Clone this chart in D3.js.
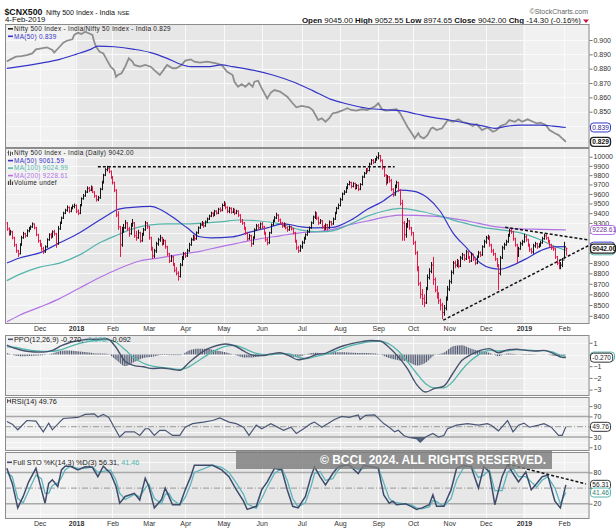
<!DOCTYPE html>
<html><head><meta charset="utf-8">
<script src="https://cdn.jsdelivr.net/npm/d3@7/dist/d3.min.js"></script>
<style>
html,body{margin:0;padding:0;background:#fff;}
svg{display:block;}
text{font-family:"Liberation Sans",Arial,sans-serif;}
</style></head><body>
<svg id="chart" width="616" height="532"></svg>
<script>
// ================= DATA =================
const monthLabels = ["Dec","2018","Feb","Mar","Apr","May","Jun","Jul","Aug","Sep","Oct","Nov","Dec","2019","Feb"];
const monthBars = [18,20,20,20,20,21,21,22,21,21,19,20,20,21,22,2]; // Nov-2017 .. Feb-2019 (bars per month)
const yearStartIdx = [38,284];

const headerLabels = ["Open","High","Low","Close","Chg"];
const headerValues = ["9045.00","9052.55","8974.65","9042.00","-14.30 (-0.16%)"];
const firstOpen = 9300, lastOpen = 9045;

const close = [
9240,9190,9210,9150,9080,9020,8990,9080,9150,9190,9170,9220,9240,9260,9290,9250,9180,9120,
9080,9040,9010,9060,9130,9180,9160,9210,9190,9090,9240,9300,9350,9400,9430,9460,9420,9450,9470,9480,
9420,9400,9480,9550,9580,9620,9660,9640,9670,9620,9580,9540,9560,9650,9720,9800,9860,9870,9840,9780,
9720,9640,9380,9260,9080,9220,9250,9300,9240,9190,9280,9300,9170,9150,9200,9120,9180,9230,9300,9260,
9150,9040,8970,9020,9090,9130,9150,9090,9120,9060,8990,8920,8960,8890,8830,8800,8770,8880,8950,8990,
8970,9020,9080,9130,9160,9140,9200,9250,9280,9300,9270,9310,9340,9370,9400,9380,9420,9400,9440,9430,9480,
9500,9460,9420,9450,9410,9440,9400,9420,9380,9320,9300,9250,9200,9140,9170,9090,9150,9230,9270,9250,9290,
9260,9200,9130,9100,9200,9280,9320,9350,9380,9330,9300,9270,9290,9250,9230,9260,9240,9200,9120,9050,9020,9060,
9100,9140,9180,9210,9250,9300,9360,9390,9350,9300,9320,9260,9240,9280,9250,9310,9290,9340,9400,9450,9480,
9540,9600,9620,9660,9700,9720,9680,9710,9660,9690,9650,9700,9780,9820,9860,9850,9920,9960,9940,9970,9990,
10010,9960,9880,9800,9720,9780,9740,9650,9590,9680,9720,9640,9500,9300,9180,9270,9320,9250,9200,
9100,9000,8850,8700,8600,8560,8520,8650,8760,8820,8880,8740,8640,8600,8540,8500,8430,8470,8560,8650,
8720,8810,8900,8880,8920,8870,8950,8980,8940,9010,8960,8920,8990,8940,8900,8960,9000,8980,9060,9110,
9150,9160,9080,9020,8990,8940,8880,8800,8950,9050,9080,9110,9170,9220,9210,9140,9080,8970,9040,9090,9110,
9160,9130,9080,9030,9010,9070,9090,9060,9080,9100,9140,9170,9150,9120,9080,9050,9040,8960,8900,8870,8880,8930,
9056.3,9042];
const high = [
9310,9255,9230,9220,9160,9090,9030,9095,9170,9210,9200,9235,9260,9275,9305,9295,9260,9190,
9130,9095,9060,9075,9145,9195,9200,9225,9230,9200,9270,9315,9365,9415,9445,9480,9470,9465,9490,9500,
9490,9440,9495,9565,9600,9640,9680,9675,9690,9680,9630,9590,9580,9665,9740,9815,9875,9900,9885,9850,
9790,9730,9650,9420,9270,9260,9290,9330,9310,9260,9300,9340,9310,9220,9230,9210,9200,9250,9320,9310,
9270,9160,9060,9040,9110,9150,9180,9160,9140,9130,9070,9000,8980,8970,8900,8860,8820,8900,8970,9010,
9010,9040,9100,9150,9180,9175,9215,9265,9300,9320,9310,9325,9355,9385,9415,9410,9435,9430,9455,9460,9500,
9525,9510,9470,9465,9460,9455,9445,9435,9430,9390,9340,9310,9260,9210,9190,9180,9165,9245,9290,9290,9305,
9310,9270,9210,9150,9210,9295,9335,9370,9405,9390,9345,9310,9305,9300,9265,9275,9270,9250,9210,9130,9070,9080,
9120,9160,9195,9230,9265,9315,9375,9420,9410,9365,9340,9330,9280,9295,9290,9325,9320,9355,9415,9465,9500,
9560,9615,9640,9680,9715,9740,9730,9725,9720,9705,9700,9715,9795,9835,9875,9880,9935,9975,9975,9985,10010,
10050,10020,9970,9890,9810,9800,9790,9760,9660,9700,9740,9730,9650,9540,9320,9300,9350,9330,9260,
9210,9120,9020,8870,8720,8650,8600,8670,8790,8850,8910,8960,8760,8680,8620,8560,8520,8500,8580,8680,
8740,8830,8920,8925,8940,8930,8970,9000,8990,9030,9015,8970,9005,8990,8950,8975,9020,9015,9075,9130,
9170,9180,9170,9090,9040,9000,8950,8890,8970,9070,9100,9130,9190,9240,9240,9220,9150,9090,9060,9110,9130,
9190,9180,9140,9090,9050,9090,9110,9100,9095,9120,9160,9190,9185,9160,9130,9090,9070,9050,8970,8920,8910,8950,
9110,9052.55];
const low = [
9220,9170,9175,9135,9060,9000,8960,8985,9070,9140,9150,9160,9205,9230,9250,9235,9165,9100,
9060,9020,8990,9000,9050,9120,9140,9150,9170,9050,9080,9230,9290,9340,9390,9415,9400,9410,9440,9450,
9400,9380,9390,9470,9540,9570,9610,9620,9630,9610,9560,9520,9525,9550,9640,9710,9790,9840,9820,9760,
9700,9620,9360,9230,8960,9060,9200,9240,9220,9160,9180,9260,9150,9120,9140,9100,9110,9170,9220,9240,
9130,9020,8940,8950,9000,9070,9110,9070,9080,9040,8970,8900,8910,8870,8810,8780,8730,8760,8870,8930,
8950,8960,9010,9070,9120,9120,9130,9190,9240,9270,9250,9260,9300,9330,9360,9360,9370,9385,9390,9410,9420,
9470,9440,9400,9400,9395,9400,9380,9390,9360,9300,9280,9230,9180,9120,9130,9060,9080,9140,9220,9230,9240,
9240,9180,9110,9075,9090,9190,9270,9310,9340,9310,9280,9250,9255,9235,9210,9220,9225,9185,9100,9030,9000,9010,
9040,9090,9130,9170,9200,9240,9290,9340,9330,9280,9290,9240,9220,9230,9225,9240,9270,9280,9330,9390,9440,
9470,9530,9590,9610,9650,9690,9660,9670,9645,9650,9630,9640,9690,9770,9810,9830,9840,9910,9920,9930,9955,
9970,9940,9860,9780,9690,9710,9720,9630,9570,9580,9660,9620,9480,9120,9120,9150,9250,9230,9170,
9080,8980,8820,8680,8560,8500,8480,8510,8640,8740,8800,8690,8620,8560,8510,8450,8370,8400,8450,8540,
8630,8700,8790,8850,8860,8850,8860,8930,8920,8930,8940,8900,8910,8920,8880,8890,8950,8960,8970,9050,
9090,9130,9060,9000,8970,8920,8860,8640,8780,8940,9030,9070,9100,9160,9190,9120,9060,8900,8960,9030,9070,
9100,9110,9060,9010,8990,8990,9050,9040,9050,9060,9090,9130,9130,9100,9060,9030,9020,8940,8880,8840,8840,8860,
8950,8974.65];

// moving averages on price (read at sample bars)
const ma50Idx = [0,7,18,29,40,51,57,61,69,79,84,91,99,106,112,124,134,143,152,162,170,179,189,198,207,212,216,223,231,238,245,253,260,266,271,278,286,293,300,307];
const ma50 = [8900,8950,9000,9100,9200,9330,9400,9440,9460,9470,9440,9360,9250,9160,9150,9160,9210,9250,9290,9260,9250,9255,9330,9440,9530,9600,9640,9630,9560,9420,9200,9040,8900,8850,8840,8880,8950,9020,9060,9061.59];
const ma100Idx = [0,7,18,29,40,51,61,69,79,88,99,110,117,128,139,150,161,172,179,189,198,209,216,227,238,249,260,271,282,293,300,307];
const ma100 = [8730,8790,8860,8900,8980,9100,9180,9240,9280,9290,9290,9300,9310,9330,9320,9290,9230,9210,9220,9290,9370,9430,9450,9420,9370,9310,9260,9230,9200,9130,9070,9024.99];
const ma200Idx = [0,7,18,29,40,51,62,73,84,95,106,117,128,139,150,161,172,179,189,198,209,216,234,253,267,282,293,307];
const ma200 = [8345,8405,8480,8560,8660,8760,8850,8920,8950,8985,9015,9060,9100,9140,9170,9200,9215,9235,9285,9320,9365,9380,9370,9320,9265,9240,9235,9228.61];

// trend lines drawn on the chart [barIndex, value]
const priceTrendLines = [[[50,9890],[213,9890]], [[239.7,8360],[320,9077]], [[273.7,9255],[320,9127]]];
const stoTrendLine = [[275,96],[318,58]];

// relative-strength ratio panel
const ratioIdx = [0,2,5,8,11,14,16,19,22,25,26,29,31,33,36,37,39,41,43,45,47,48,49,51,53,55,57,59,60,61,63,65,67,69,70,73,76,79,81,84,86,88,91,93,96,98,101,103,106,110,113,115,118,121,124,125,127,129,131,133,135,136,138,140,143,145,147,150,154,157,159,162,166,168,171,173,175,177,179,181,184,187,189,192,195,198,200,202,204,206,208,211,214,216,219,220,223,224,226,227,229,231,233,234,236,239,241,242,245,248,250,253,256,258,261,264,267,269,271,274,276,279,281,283,286,289,291,293,296,298,301,303,305,306,307];
const ratio = [.885,.8865,.8884,.8888,.8895,.8907,.8935,.8942,.8949,.893,.8912,.8953,.8981,.8995,.9005,.9035,.905,.9042,.9058,.9047,.9035,.8988,.8953,.8918,.8907,.886,.8814,.879,.8744,.8756,.8768,.8814,.8872,.8849,.8826,.8814,.8826,.8814,.879,.8756,.879,.8826,.8803,.8803,.8826,.8856,.8865,.8849,.8842,.8849,.8842,.8837,.8826,.8779,.8756,.8709,.8674,.8693,.8674,.8698,.8674,.8709,.8716,.8663,.8593,.8633,.8651,.864,.8605,.8559,.8531,.854,.8531,.8512,.8442,.8454,.843,.8454,.8489,.8493,.8507,.8524,.8512,.8507,.8517,.8512,.8524,.8535,.8559,.8517,.8507,.8512,.8517,.8489,.8419,.8395,.8337,.8314,.835,.8326,.8314,.8337,.8384,.839,.8372,.8384,.8419,.8442,.843,.8447,.843,.8419,.840,.8414,.8372,.839,.836,.8372,.840,.8414,.8442,.843,.8447,.843,.8447,.843,.8419,.8423,.8407,.8372,.835,.8337,.8314,.8303,.829];
const ratioMaIdx = [0,7,18,29,38,46,50,59,70,79,88,95,101,110,118,124,135,146,157,168,178,187,198,209,216,225,234,243,253,262,268,275,282,293,300,307];
const ratioMa = [.8802,.8814,.8837,.8865,.890,.8935,.8958,.8953,.8935,.8912,.8872,.8833,.8814,.8814,.8826,.8814,.879,.8756,.8709,.8647,.8586,.8554,.8524,.8512,.8507,.8484,.846,.8442,.8419,.840,.8384,.840,.8407,.8407,.840,.839];

// PPO(12,26,9)
const ppoIdx = [0,5,10,15,20,25,30,35,40,45,50,55,60,65,70,75,80,85,90,95,100,105,110,115,120,125,130,135,140,145,150,155,160,165,170,175,180,185,190,195,200,205,210,215,220,225,230,235,240,245,250,255,260,265,270,275,280,285,290,295,300,305,307];
const ppo = [0.80,0.50,0.30,0.22,0.20,0.35,0.75,1.05,1.20,1.30,1.30,1.35,0.60,-0.60,-0.95,-1.05,-1.20,-1.15,-1.25,-1.35,-0.70,-0.05,0.45,0.75,0.90,0.75,0.30,-0.05,-0.10,0.05,0.15,-0.10,-0.45,-0.30,0.00,0.10,0.45,0.75,0.95,1.10,1.20,1.15,0.60,-0.20,-1.20,-2.55,-3.20,-2.90,-2.70,-1.60,-0.50,0.00,0.35,0.50,0.15,0.40,0.45,0.35,0.30,0.35,0.10,-0.25,-0.27];
const ppoSignal = [0.65,0.60,0.45,0.32,0.26,0.26,0.42,0.70,0.95,1.12,1.22,1.28,1.05,0.40,-0.30,-0.75,-1.00,-1.10,-1.18,-1.28,-1.05,-0.55,-0.05,0.40,0.70,0.78,0.55,0.20,0.00,-0.02,0.08,0.05,-0.25,-0.35,-0.15,0.02,0.25,0.55,0.80,0.98,1.10,1.15,0.90,0.30,-0.60,-1.60,-2.50,-2.85,-2.85,-2.30,-1.30,-0.50,0.05,0.35,0.30,0.32,0.42,0.40,0.33,0.33,0.20,-0.12,-0.178];
const ppoHist = [0.15,-0.10,-0.15,-0.10,-0.06,0.09,0.33,0.35,0.25,0.18,0.08,0.07,-0.45,-1.00,-0.65,-0.30,-0.20,-0.05,-0.07,-0.07,0.35,0.50,0.50,0.35,0.20,-0.03,-0.25,-0.25,-0.10,0.07,0.07,-0.15,-0.20,0.05,0.15,0.08,0.20,0.20,0.15,0.12,0.10,0.00,-0.30,-0.50,-0.60,-0.95,-0.70,-0.05,0.15,0.70,0.80,0.50,0.30,0.15,-0.15,0.08,0.03,-0.05,-0.03,0.02,-0.10,-0.13,-0.092];

// RSI(14)
const rsiIdx = [0,3,6,11,16,20,23,25,29,31,39,43,48,50,53,56,59,62,65,70,73,76,78,81,84,87,91,95,98,102,108,113,117,122,126,130,133,137,140,145,152,156,159,163,167,169,173,180,184,188,193,194,197,202,207,210,213,215,218,221,225,227,230,234,237,240,242,247,253,259,264,266,270,275,278,281,284,287,292,295,299,303,305,307];
const rsi = [60,55,44,62,61,40,57,44,59,66,68,74,75,69,74,68,49,30,40,40,33,46,46,33,43,43,33,33,49,56,59,62,67,59,56,49,33,53,46,56,43,49,37,46,56,59,49,64,70,68,73,64,72,73,56,49,40,43,33,29,27,20,30,37,30,33,46,53,56,53,56,53,42,62,40,53,57,49,53,56,49,33,33,49.76];

// Full Stochastics %K(14,3) %D(3)
const stoIdx = [0,3,6,9,12,16,19,21,23,25,28,30,32,35,39,43,47,50,53,57,60,62,65,70,73,76,78,81,85,87,89,91,95,98,101,103,113,118,122,126,130,132,137,140,143,147,151,154,157,160,164,167,169,172,175,179,182,185,188,193,196,200,204,207,210,212,214,219,222,225,228,232,234,236,240,244,247,251,255,259,262,265,268,272,275,278,281,285,288,291,294,297,301,304,307];
const stoK = [88,59,12,34,62,88,47,21,59,66,53,85,92,92,85,91,90,72,92,78,53,21,34,40,27,69,53,12,28,50,34,18,18,47,72,94,94,85,72,47,25,9,15,47,62,88,85,47,15,12,34,72,91,72,56,78,91,94,94,78,94,91,88,37,21,25,18,20,15,9,12,18,37,15,15,47,88,94,91,50,91,81,18,72,96,78,62,81,47,59,72,75,25,12,56.31];
const stoD = [80,72,30,22,45,75,68,40,40,55,60,70,85,92,88,88,91,80,82,85,65,40,28,38,33,50,58,30,20,38,40,28,18,32,58,80,94,90,80,60,38,20,11,30,52,78,88,65,30,14,22,52,78,82,65,68,85,93,94,85,88,92,90,60,30,24,22,19,18,12,10,14,26,24,15,30,65,90,93,70,75,85,45,45,80,88,72,72,62,52,65,72,50,20,41.46];

// axis ticks
const ratioTicks = [0.83,0.84,0.85,0.86,0.87,0.88,0.89,0.90];
const priceTicks = [8400,8500,8600,8700,8800,8900,9000,9100,9200,9300,9400,9500,9600,9700,9800,9900,10000];
const ppoTicks = [1,0,-1,-2,-3];
const rsiTicks = [90,70,50,30,10];
const stoTicks = [80,50,20];

// ================= DRAWING =================
const svg = d3.select("#chart");
const defs = svg.append("defs");
const X0 = 5, X1 = 589.5;
const x = d3.scaleLinear().domain([-1,320]).range([X0,X1]);

const P = {
  ratio:{y0:24,y1:148}, price:{y0:148,y1:324}, ppo:{y0:335,y1:396}, rsi:{y0:397,y1:451}, sto:{y0:452,y1:519}
};
const yRatio = d3.scaleLinear().domain([0.82469,0.91116]).range([P.ratio.y1,P.ratio.y0]);
const yPrice = d3.scaleLog().domain([8325,10096]).range([P.price.y1,P.price.y0]);
const yPpo = d3.scaleLinear().domain([-3.547,1.667]).range([P.ppo.y1,P.ppo.y0]);
const yRsi = d3.scaleLinear().domain([2.8,107.7]).range([P.rsi.y1,P.rsi.y0]);
const ySto = d3.scaleLinear().domain([-9.4,119.4]).range([P.sto.y1,P.sto.y0]);

const monthTickIdx = [];
{ let c = 0; monthBars.forEach((n,k)=>{ c += n; if (k < monthBars.length-1) monthTickIdx.push(c); }); }

const BG="#e7e7e7", BG2="#f1f1f1", GRID="#fafafa", BORDER="#8c8c8c", AX="#333";
const UP="#151515", DOWN="#e5194a";
const BLUE="#3434c8", TEAL="#54b5ac", PURPLE="#b273e6", SLATE="#46526e";

// value tags shown on the right axis (last values); label null = tag hidden beneath another tag
const last = a => a[a.length-1];
const tagsRatio = [[yRatio(last(ratioMa)),"0.839",BLUE,"#22228a",false],[yRatio(last(ratio)),"0.829","#222","#111",true]];
const tagsPrice = [[yPrice(last(ma200)),"9228.61",PURPLE,"#6b3a9a",false],[yPrice(last(ma100)),null,TEAL,"#2a7a72",false],
                   [yPrice(last(ma50)),null,BLUE,"#22228a",false],[yPrice(last(close)),"9042.00","#222","#111",true]];
const tagsPpo = [[yPpo(last(ppoSignal)),null,TEAL,"#2a7a72",false],[yPpo(last(ppo)),"-0.270","#333","#222",false]];
const tagsRsi = [[yRsi(last(rsi)),"49.76","#333","#222",false]];
const tagsSto = [[ySto(last(stoK)),"56.31","#333","#222",false],[ySto(last(stoD)),"41.46",TEAL,"#2a7a72",false]];

function panelBase(key, yScale, grid){
  const {y0,y1} = P[key];
  defs.append("clipPath").attr("id","clip-"+key).append("rect")
    .attr("x",X0).attr("y",y0).attr("width",X1-X0).attr("height",y1-y0);
  const g = svg.append("g");
  g.append("rect").attr("x",X0).attr("y",y0).attr("width",X1-X0).attr("height",y1-y0).attr("fill",BG);
  const a = x(yearStartIdx[0]-0.5), b = x(yearStartIdx[1]-0.5);
  g.append("rect").attr("x",X0).attr("y",y0).attr("width",a-X0).attr("height",y1-y0).attr("fill",BG2);
  g.append("rect").attr("x",b).attr("y",y0).attr("width",X1-b).attr("height",y1-y0).attr("fill",BG2);
  g.selectAll(null).data(grid).join("line")
    .attr("x1",X0).attr("x2",X1)
    .attr("y1",d=>Math.round(yScale(d))+0.5).attr("y2",d=>Math.round(yScale(d))+0.5)
    .attr("stroke",GRID).attr("stroke-width",1);
  g.selectAll(null).data(monthTickIdx).join("line")
    .attr("x1",d=>Math.round(x(d))+0.5).attr("x2",d=>Math.round(x(d))+0.5)
    .attr("y1",y0).attr("y2",y1).attr("stroke",GRID).attr("stroke-width",1);
  return g;
}
function panelBorder(key){
  const {y0,y1} = P[key];
  svg.append("rect").attr("x",X0+0.5).attr("y",y0+0.5).attr("width",X1-X0-1).attr("height",y1-y0-1)
    .attr("fill","none").attr("stroke",BORDER).attr("stroke-width",1);
}
function rightAxis(yScale, ticks, fmt, tags){
  const g = svg.append("g").attr("transform",`translate(${X1},0)`)
    .call(d3.axisRight(yScale).tickValues(ticks).tickFormat(fmt).tickSize(3).tickPadding(1));
  g.select(".domain").remove();
  g.selectAll(".tick line").attr("stroke","#777");
  g.selectAll("text").attr("font-size",7).attr("fill",AX).attr("font-family","Liberation Sans, Arial, sans-serif");
  // labels covered by a value tag are hidden (as in the reference)
  g.selectAll(".tick").filter(d=>tags.some(t=>Math.abs(t[0]-yScale(d))<7)).select("text").remove();
  return g;
}
function bottomAxis(yPos){
  const g = svg.append("g").attr("transform",`translate(0,${yPos})`)
    .call(d3.axisBottom(x).tickValues(monthTickIdx).tickFormat((d,i)=>monthLabels[i]).tickSize(0).tickPadding(2.5));
  g.select(".domain").remove();
  g.selectAll("text").attr("font-size",7).attr("fill",AX).attr("font-family","Liberation Sans, Arial, sans-serif")
    .attr("font-weight",(d,i)=>/^\d{4}$/.test(monthLabels[i])?"bold":"normal");
}
const lineOf = (ys, curve) => d3.line().x(d=>x(d[0])).y(d=>ys(d[1])).curve(curve||d3.curveMonotoneX);
const zip = (a,b) => a.map((v,i)=>[v,b[i]]);

// ---------- Header ----------
{
  svg.append("text").attr("x",4.5).attr("y",14.5).attr("font-size",9).attr("font-weight","bold").attr("fill","#111")
    .attr("textLength",38).attr("lengthAdjust","spacingAndGlyphs").text("$CNX500");
  const t2 = svg.append("text").attr("x",46).attr("y",14.5).attr("font-size",7.1).attr("fill","#111").text("Nifty 500 Index - India");
  const w2 = t2.node().getComputedTextLength();
  svg.append("text").attr("x",46+w2+2.5).attr("y",14.5).attr("font-size",5.8).attr("fill","#111").text("NSE");
}
svg.append("text").attr("x",5).attr("y",22).attr("font-size",7.8).attr("fill","#111").text("4-Feb-2019");
svg.append("text").attr("x",588).attr("y",14).attr("text-anchor","end").attr("font-size",7).attr("fill","#666").text("\u00a9StockCharts.com");
{
  const t = svg.append("text").attr("x",581).attr("y",23).attr("text-anchor","end").attr("font-size",7.9).attr("fill","#111");
  headerLabels.forEach((l,i)=>{
    t.append("tspan").attr("font-weight","bold").text((i?"\u00a0":"")+l+"\u00a0");
    t.append("tspan").text(headerValues[i]);
  });
  svg.append("path").attr("d","M583,19.5 L589,19.5 L586,23 Z").attr("fill","#d0103a");
}

// ---------- Ratio panel ----------
panelBase("ratio", yRatio, ratioTicks);
{
  const g = svg.append("g").attr("clip-path","url(#clip-ratio)");
  g.append("path").attr("d",lineOf(yRatio, d3.curveLinear)(zip(ratioIdx,ratio))).attr("fill","none").attr("stroke","#8e8e8e").attr("stroke-width",1.8);
  g.append("path").attr("d",lineOf(yRatio)(zip(ratioMaIdx,ratioMa))).attr("fill","none").attr("stroke",BLUE).attr("stroke-width",1.2);
}
panelBorder("ratio");
rightAxis(yRatio, ratioTicks, d3.format(".3f"), tagsRatio);

// ---------- Price panel ----------
panelBase("price", yPrice, priceTicks);
{
  const g = svg.append("g").attr("clip-path","url(#clip-price)");
  g.append("path").attr("d",lineOf(yPrice)(zip(ma200Idx,ma200))).attr("fill","none").attr("stroke",PURPLE).attr("stroke-width",1.2);
  g.append("path").attr("d",lineOf(yPrice)(zip(ma100Idx,ma100))).attr("fill","none").attr("stroke",TEAL).attr("stroke-width",1.2);
  g.append("path").attr("d",lineOf(yPrice)(zip(ma50Idx,ma50))).attr("fill","none").attr("stroke",BLUE).attr("stroke-width",1.2);
  const bars = close.map((c,i)=>{
    const prev = i===0 ? firstOpen : close[i-1];
    const o = i===0 ? firstOpen : (i===close.length-1 ? lastOpen : prev);
    return {i,o,h:high[i],l:low[i],c,up:c>=prev};
  });
  g.selectAll(null).data(bars).join("path")
    .attr("d",d=>{const cx=Math.round(x(d.i))+0.5;
      return `M${cx},${yPrice(d.h)}V${yPrice(d.l)}M${cx-1},${yPrice(d.o)}H${cx}M${cx},${yPrice(d.c)}H${cx+1}`;})
    .attr("fill","none").attr("stroke",d=>d.up?UP:DOWN).attr("stroke-width",1);
  g.selectAll(null).data(priceTrendLines).join("path")
    .attr("d",d=>lineOf(yPrice,d3.curveLinear)(d)).attr("fill","none").attr("stroke","#111")
    .attr("stroke-width",1.5).attr("stroke-dasharray","3,2");
}
panelBorder("price");
rightAxis(yPrice, priceTicks, d3.format("d"), tagsPrice);
bottomAxis(P.price.y1);

// ---------- PPO panel ----------
panelBase("ppo", yPpo, ppoTicks);
{
  const pat = defs.append("pattern").attr("id","histPat").attr("patternUnits","userSpaceOnUse")
    .attr("width",x(1)-x(0)).attr("height",10);
  pat.append("rect").attr("x",0).attr("y",0).attr("width",1.1).attr("height",10).attr("fill","#4d566f");
  const g = svg.append("g").attr("clip-path","url(#clip-ppo)");
  const area = d3.area().x(d=>x(d[0])).y0(yPpo(0)).y1(d=>yPpo(d[1])).curve(d3.curveMonotoneX);
  g.append("path").attr("d",area(zip(ppoIdx,ppoHist))).attr("fill","url(#histPat)");
  g.append("path").attr("d",lineOf(yPpo)(zip(ppoIdx,ppoSignal))).attr("fill","none").attr("stroke",TEAL).attr("stroke-width",1.3);
  g.append("path").attr("d",lineOf(yPpo)(zip(ppoIdx,ppo))).attr("fill","none").attr("stroke",SLATE).attr("stroke-width",1.4);
}
panelBorder("ppo");
rightAxis(yPpo, ppoTicks, d3.format("d"), tagsPpo);

// ---------- RSI panel ----------
panelBase("rsi", yRsi, [10,20,40,60,80,90]);
{
  const g = svg.append("g").attr("clip-path","url(#clip-rsi)");
  [70,30].forEach(v=>g.append("line").attr("x1",X0).attr("x2",X1).attr("y1",yRsi(v)).attr("y2",yRsi(v)).attr("stroke","#a9a9a9").attr("stroke-width",1.5));
  g.append("line").attr("x1",X0).attr("x2",X1).attr("y1",yRsi(50)).attr("y2",yRsi(50)).attr("stroke","#999").attr("stroke-dasharray","6,2,1,2");
  defs.append("clipPath").attr("id","clip-rsi-lo").append("rect").attr("x",X0).attr("y",yRsi(30)).attr("width",X1-X0).attr("height",P.rsi.y1-yRsi(30));
  const area = d3.area().x(d=>x(d[0])).y0(yRsi(30)).y1(d=>yRsi(d[1])).curve(d3.curveLinear);
  g.append("path").attr("d",area(zip(rsiIdx,rsi))).attr("fill","#55617d").attr("clip-path","url(#clip-rsi-lo)");
  g.append("path").attr("d",lineOf(yRsi,d3.curveLinear)(zip(rsiIdx,rsi))).attr("fill","none").attr("stroke","#4a5675").attr("stroke-width",1.2);
}
panelBorder("rsi");
rightAxis(yRsi, rsiTicks, d3.format("d"), tagsRsi);

// ---------- STO panel ----------
panelBase("sto", ySto, [0,100]);
{
  const g = svg.append("g").attr("clip-path","url(#clip-sto)");
  [80,20].forEach(v=>g.append("line").attr("x1",X0).attr("x2",X1).attr("y1",ySto(v)).attr("y2",ySto(v)).attr("stroke","#a9a9a9").attr("stroke-width",1.5));
  g.append("line").attr("x1",X0).attr("x2",X1).attr("y1",ySto(50)).attr("y2",ySto(50)).attr("stroke","#999").attr("stroke-dasharray","6,2,1,2");
  g.append("path").attr("d",lineOf(ySto,d3.curveLinear)(zip(stoIdx,stoD))).attr("fill","none").attr("stroke","#5db4bc").attr("stroke-width",1.3);
  g.append("path").attr("d",lineOf(ySto,d3.curveLinear)(zip(stoIdx,stoK))).attr("fill","none").attr("stroke","#3f4b6b").attr("stroke-width",1.5);
  g.append("path").attr("d",lineOf(ySto,d3.curveLinear)(stoTrendLine)).attr("fill","none").attr("stroke","#111").attr("stroke-width",1.5).attr("stroke-dasharray","3,2");
}
panelBorder("sto");
rightAxis(ySto, stoTicks, d3.format("d"), tagsSto);
bottomAxis(P.sto.y1);

// ---------- value tags on right axis ----------
function tag(t){
  const [yv, label, stroke, tcol, bold] = t;
  const g = svg.append("g");
  const r = g.append("rect").attr("x",X1+1).attr("y",yv-4.5).attr("height",9).attr("rx",3)
    .attr("fill","#fff").attr("stroke",stroke).attr("stroke-width",bold?1.3:1).attr("width",24);
  if (label) {
    const tx = g.append("text").attr("x",X1+2.8).attr("y",yv+2.4).attr("font-size",6.6).attr("fill",tcol)
      .attr("font-weight",bold?"bold":"normal").text(label);
    r.attr("width", Math.min(tx.node().getComputedTextLength()+3.5, 616-X1-1.5));
  }
}
[tagsRatio,tagsPrice,tagsPpo,tagsRsi,tagsSto].forEach(a=>a.forEach(tag));

// ---------- Legends ----------
const LF = 6.4, LS = 0.32;   // legend font size / letter spacing for stacked legends
function legendLine(xp, yb, color, parts, fs, ls){
  svg.append("line").attr("x1",xp).attr("x2",xp+5).attr("y1",yb-2.2).attr("y2",yb-2.2).attr("stroke",color).attr("stroke-width",1.6);
  const t = svg.append("text").attr("x",xp+6).attr("y",yb).attr("font-size",fs||7.3).attr("letter-spacing",ls||0);
  parts.forEach(p=>t.append("tspan").attr("fill",p[1]).text(p[0]));
}
legendLine(8,31,"#222",[["Nifty 500 Index - India/Nifty 50 Index - India 0.829","#222"]],LF,LS);
legendLine(8,38.5,BLUE,[["MA(50) 0.839",BLUE]],LF,LS);
// price legend
svg.append("path").attr("d","M8.5,150.5V155.5M10.5,151.5V156M12.5,152V155M7.5,152.5H8.5M10.5,153H11.5").attr("stroke","#333").attr("fill","none").attr("stroke-width",0.8);
svg.append("text").attr("x",14).attr("y",155.3).attr("font-size",LF).attr("letter-spacing",LS).attr("fill","#222").text("Nifty 500 Index - India (Daily) 9042.00");
legendLine(8,162.8,BLUE,[["MA(50) 9061.59",BLUE]],LF,LS);
legendLine(8,170.3,TEAL,[["MA(100) 9024.99",TEAL]],LF,LS);
legendLine(8,177.8,PURPLE,[["MA(200) 9228.61",PURPLE]],LF,LS);
svg.append("path").attr("d","M8.5,185V181M10.5,185V179.5M12.5,185V181.5").attr("stroke","#444").attr("stroke-width",1.2);
svg.append("text").attr("x",14).attr("y",185.3).attr("font-size",LF).attr("letter-spacing",LS).attr("fill","#222").text("Volume undef");
legendLine(8,341.5,SLATE,[["PPO(12,26,9) -0.270, ","#222"],["-0.178,",TEAL],[" -0.092","#222"]]);
svg.append("path").attr("d","M7.5,403V399.5L9,401.5L10.5,399.5V403").attr("stroke","#333").attr("fill","none").attr("stroke-width",0.8);
svg.append("text").attr("x",11.5).attr("y",403.5).attr("font-size",7.3).attr("fill","#222").text("RSI(14) 49.76");
legendLine(7,464.5,"#3f4b6b",[["Full STO %K(14,3) %D(3) 56.31, ","#222"],["41.46",TEAL]]);

// ---------- watermark ----------
svg.append("rect").attr("x",236).attr("y",450.5).attr("width",316).attr("height",18.5).attr("fill","#7d7d7d").attr("opacity",0.82);
svg.append("text").attr("x",546).attr("y",464.3).attr("text-anchor","end").attr("font-size",13).attr("font-weight","bold")
  .attr("fill","#fff").attr("textLength",226).attr("lengthAdjust","spacingAndGlyphs").text("\u00a9 BCCL 2024. ALL RIGHTS RESERVED.");
</script>
</body></html>
